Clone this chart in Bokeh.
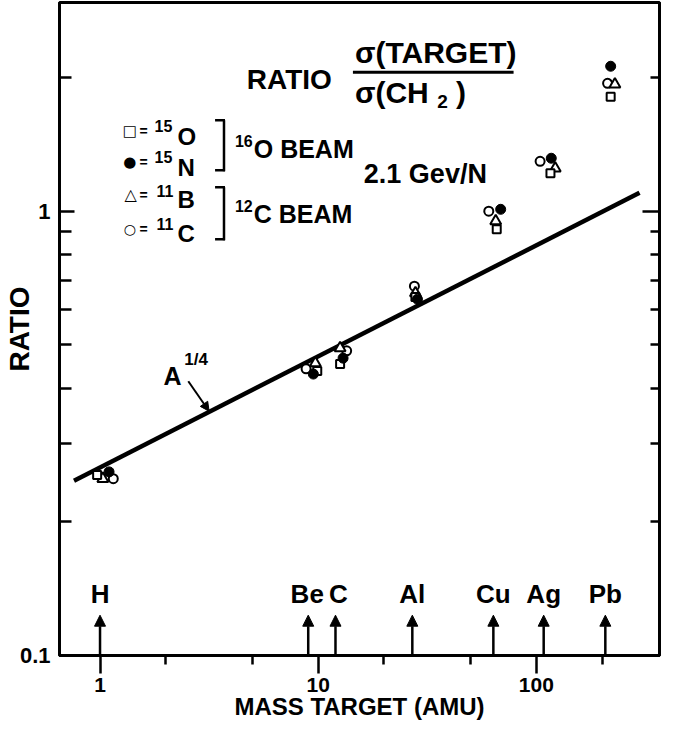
import math
from bokeh.plotting import figure
from bokeh.models import (Range1d, FixedTicker, LogAxis, Label, Arrow, NormalHead,
                          ColumnDataSource, CustomJSTickFormatter)
from bokeh.core.properties import value
from bokeh.embed import file_html
from bokeh.resources import INLINE

# ---------------- data ----------------
elements = ["H", "Be", "C", "Al", "Cu", "Ag", "Pb"]
element_mass = [1, 9, 12, 27, 63.5, 108, 207]

# 15O fragments (16O beam) - open squares
o15_mass = [0.97, 9.9, 12.6, 27.9, 65.8, 116, 219]
o15_ratio = [0.255, 0.437, 0.453, 0.641, 0.911, 1.217, 1.81]
# 15N fragments (16O beam) - filled circles
n15_mass = [1.10, 9.5, 13.0, 28.5, 68.6, 117, 219]
n15_ratio = [0.259, 0.430, 0.467, 0.634, 1.01, 1.316, 2.12]
# 11B fragments (12C beam) - open triangles
b11_mass = [1.03, 9.7, 12.6, 27.9, 65.1, 122, 229]
b11_ratio = [0.250, 0.455, 0.492, 0.654, 0.95, 1.249, 1.93]
# 11C fragments (12C beam) - open circles
c11_mass = [1.15, 8.8, 13.5, 27.6, 60.5, 104, 212]
c11_ratio = [0.250, 0.442, 0.485, 0.678, 1.00, 1.295, 1.94]

# A^(1/4) reference line
fit_mass = [0.76, 297]
fit_coef = 0.265
fit_power = 0.25
fit_ratio = [fit_coef * a ** fit_power for a in fit_mass]

x_major = [1, 10, 100]
x_minor = [2, 5, 20, 50, 200]
x_labels = ["1", "10", "100"]
y_major = [0.1, 1]
y_minor = [0.2, 0.3, 0.4, 0.5, 0.6, 0.7, 0.8, 0.9, 2]
y_labels = ["0.1", "1"]

FONT = "Liberation Sans"
SYM = "DejaVu Sans"

# frame geometry (layout): 220 px per x decade, ~444 px per y decade
X_LEFT = 0.652
X_RIGHT = X_LEFT * 10 ** (605 / 220.0)

p = figure(width=661, height=726, x_axis_type="log", y_axis_type="log",
           x_range=Range1d(X_LEFT, X_RIGHT), y_range=Range1d(0.1, 2.95),
           output_backend="svg", toolbar_location=None,
           min_border_left=54, min_border_right=2, min_border_top=2, min_border_bottom=71)
p.xgrid.visible = False
p.ygrid.visible = False
p.outline_line_color = "black"
p.outline_line_width = 3
p.background_fill_color = "white"
p.border_fill_color = "white"

# x axis
xa = p.xaxis[0]
xa.ticker = FixedTicker(ticks=x_major, minor_ticks=x_minor)
xa.major_label_overrides = {t: l for t, l in zip(x_major, x_labels)}
xa.major_tick_in = 0
xa.major_tick_out = 18
xa.minor_tick_in = 0
xa.minor_tick_out = 9
xa.major_tick_line_width = 2.5
xa.minor_tick_line_width = 2.5
xa.axis_line_width = 3
xa.major_label_text_font = FONT
xa.major_label_text_font_style = "bold"
xa.major_label_text_font_size = "21px"
xa.major_label_text_color = "black"
xa.major_label_standoff = 4
xa.axis_label = "MASS TARGET (AMU)"
xa.axis_label_text_font = FONT
xa.axis_label_text_font_style = "bold"
xa.axis_label_text_font_size = "24px"
xa.axis_label_text_color = "black"
xa.axis_label_standoff = -2

# left y axis
ya = p.yaxis[0]
ya.ticker = FixedTicker(ticks=y_major, minor_ticks=y_minor)
ya.major_label_overrides = {t: l for t, l in zip(y_major, y_labels)}
ya.major_tick_in = 15
ya.major_tick_out = 0
ya.minor_tick_in = 12
ya.minor_tick_out = 0
ya.major_tick_line_width = 2.5
ya.minor_tick_line_width = 2.5
ya.axis_line_width = 3
ya.major_label_text_font = FONT
ya.major_label_text_font_style = "bold"
ya.major_label_text_font_size = "22px"
ya.major_label_text_color = "black"
ya.major_label_standoff = 9
ya.axis_label = "RATIO"
ya.axis_label_text_font = FONT
ya.axis_label_text_font_style = "bold"
ya.axis_label_text_font_size = "28px"
ya.axis_label_text_color = "black"
ya.axis_label_standoff = -18

# right y axis (ticks only)
ra = LogAxis(ticker=FixedTicker(ticks=y_major, minor_ticks=y_minor),
             formatter=CustomJSTickFormatter(code="return ''"),
             major_tick_in=17, major_tick_out=0, minor_tick_in=9, minor_tick_out=0,
             major_tick_line_width=2.5, minor_tick_line_width=2.5,
             axis_line_width=3, major_label_standoff=0,
             major_label_text_font_size="1px")
p.add_layout(ra, "right")

# A^(1/4) line
p.line(fit_mass, fit_ratio, line_width=4.5, line_color="black")

# data points
p.scatter(c11_mass, c11_ratio, marker="circle", size=9, line_width=2,
          line_color="black", fill_color="white")
p.scatter(b11_mass, b11_ratio, marker="triangle", size=11, line_width=2,
          line_color="black", fill_color="white")
p.scatter(o15_mass, o15_ratio, marker="square", size=8, line_width=2,
          line_color="black", fill_color="white")
p.scatter(n15_mass, n15_ratio, marker="circle", size=10, line_width=1,
          line_color="black", fill_color="black")


# layout helper: reference-pixel position -> data coordinates (annotation placement only)
def at(px, py):
    return 10 ** ((px - 103) / 220.0), 10 ** ((219 - py) / 444.3)


label_level = at(0, 602)[1]
arrow_tip = at(0, 623)[1]
label_dx = [0, -1, 3, 0, 0, 0, 0]   # small horizontal nudges of the element names (px)

# element arrows and labels
src = ColumnDataSource(dict(x=element_mass, y0=[0.1] * len(element_mass),
                            y1=[arrow_tip] * len(element_mass),
                            yl=[label_level] * len(element_mass), t=elements, dx=label_dx))
p.add_layout(Arrow(end=NormalHead(size=11, fill_color="black", line_color="black", line_width=1),
                   source=src, x_start="x", y_start="y0", x_end="x", y_end="y1",
                   line_width=2.5, line_color="black"))
p.text(x="x", y="yl", text="t", x_offset="dx", source=src, text_font=value(FONT),
       text_font_size="26px", text_font_style="bold", text_align="center",
       text_baseline="middle", text_color="black")


def add_text(txt, px, py, size, align="left", font=FONT, style="bold"):
    x, y = at(px, py)
    p.add_layout(Label(x=x, y=y, text=txt, text_font=font, text_font_size=f"{size}px",
                       text_font_style=style, text_align=align, text_baseline="middle",
                       text_color="black"))


def add_seg(p0, p1, w=2.5):
    x0, y0 = at(*p0)
    x1, y1 = at(*p1)
    p.add_layout(Arrow(end=None, x_start=x0, y_start=y0, x_end=x1, y_end=y1,
                       line_width=w, line_color="black"))


# title ratio
add_text("RATIO", 251, 87, 28)
add_text("σ(TARGET)", 360, 60, 30)
add_seg((358, 80), (520, 80), 3)
add_text("σ(CH", 360, 100, 30)
add_text("2", 443, 109, 19)
add_text(")", 462, 100, 30)

# energy
add_text("2.1 Gev/N", 369, 182, 27)

# legend
add_text("□", 133, 139, 15, align="center", font=SYM, style="normal")
add_text("●", 133, 170, 15, align="center", font=SYM, style="normal")
add_text("△", 134, 202, 16, align="center", font=SYM, style="normal")
add_text("○", 133, 237, 14, align="center", font=SYM, style="normal")
for yy in (139, 170, 203, 237):
    add_text("=", 147, yy, 14, align="center")
add_text("15", 158, 134, 16)
add_text("O", 181, 144, 24)
add_text("15", 158, 165, 16)
add_text("N", 181, 175, 24)
add_text("11", 160, 199, 16)
add_text("B", 181, 207, 24)
add_text("11", 160, 232, 16)
add_text("C", 181, 241, 24)

# brackets
add_seg((219, 128), (229, 128))
add_seg((228, 128), (228, 179))
add_seg((219, 178), (229, 178))
add_seg((219, 195), (229, 195))
add_seg((228, 195), (228, 248))
add_seg((219, 247), (229, 247))

add_text("16", 239, 149, 16)
add_text("O BEAM", 258, 157, 25)
add_text("12", 239, 214, 16)
add_text("C BEAM", 258, 222, 25)

# A^(1/4) annotation
add_text("A", 167, 384, 25)
add_text("1/4", 188, 367, 17)
xs, ys = at(192, 389)
xe, ye = at(213, 419)
p.add_layout(Arrow(end=NormalHead(size=9, fill_color="black", line_color="black", line_width=1),
                   x_start=xs, y_start=ys, x_end=xe, y_end=ye,
                   line_width=2, line_color="black"))

open("out.html", "w").write(file_html(p, INLINE))
